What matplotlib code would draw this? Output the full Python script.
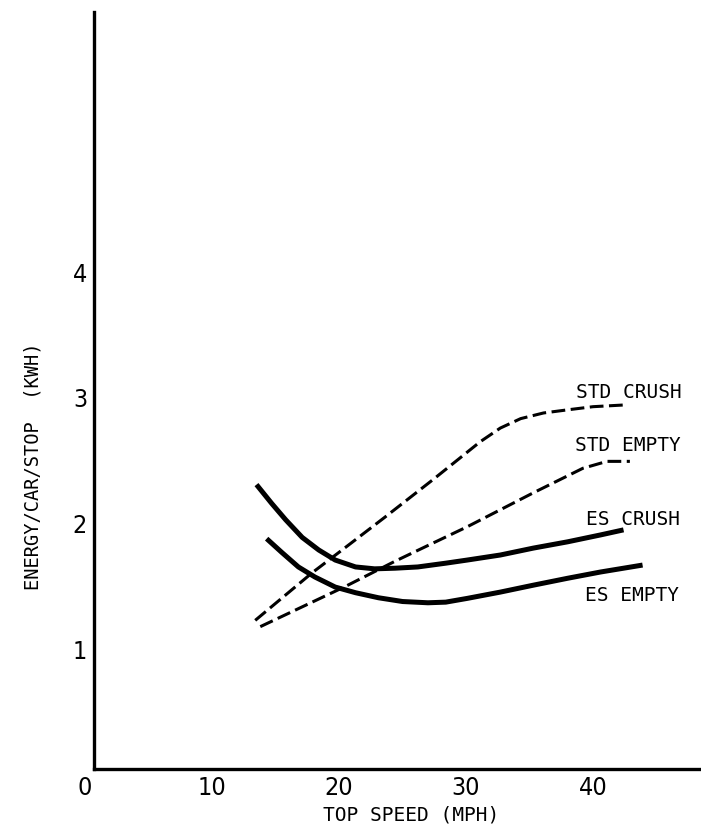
import matplotlib
matplotlib.use("Agg")
import matplotlib.pyplot as plt

# ===========================
# Data
# ===========================
es_crush_x = [13.5, 14.7, 15.8, 17.1, 18.4, 19.7, 21.3, 22.8, 24.4, 26.2, 28.4, 30.1, 32.7, 35.3, 38.0, 40.6, 42.4]
es_crush_y = [2.31, 2.16, 2.03, 1.89, 1.79, 1.71, 1.655, 1.64, 1.645, 1.655, 1.685, 1.71, 1.75, 1.805, 1.855, 1.91, 1.95]

es_empty_x = [14.3, 15.5, 16.8, 18.1, 19.7, 21.3, 23.1, 25.0, 27.0, 28.4, 30.1, 32.7, 35.3, 38.0, 40.6, 43.9]
es_empty_y = [1.88, 1.77, 1.655, 1.575, 1.495, 1.45, 1.41, 1.38, 1.37, 1.375, 1.405, 1.455, 1.51, 1.565, 1.615, 1.67]

std_crush_x = [13.4, 17.9, 20.5, 23.6, 27.4, 29.5, 31.1, 32.7, 34.3, 36.1, 38.0, 40.0, 42.7]
std_crush_y = [1.23, 1.61, 1.81, 2.05, 2.35, 2.52, 2.65, 2.76, 2.835, 2.88, 2.905, 2.93, 2.945]

std_empty_x = [13.8, 20.5, 24.4, 27.4, 30.1, 32.7, 35.3, 37.4, 39.2, 41.1, 42.9]
std_empty_y = [1.18, 1.50, 1.70, 1.845, 1.975, 2.11, 2.245, 2.35, 2.44, 2.495, 2.495]

curve_labels = ["STD CRUSH", "STD EMPTY", "ES CRUSH", "ES EMPTY"]
label_x = [38.65, 38.6, 39.45, 39.4]
label_y = [3.04, 2.625, 2.03, 1.43]

x_ticks = [0, 10, 20, 30, 40]
y_ticks = [1, 2, 3, 4]

# ===========================
# Figure
# ===========================
fig = plt.figure(figsize=(7.01, 8.27), dpi=100)
ax = fig.add_axes([0.1213, 0.0629, 0.8787, 0.9226])
ax.set_xlim(0, 48.5)
ax.set_ylim(0, 6.07)

mono = "DejaVu Sans Mono"

ax.plot(es_crush_x, es_crush_y, color="black", lw=3.6, solid_capstyle="butt")
ax.plot(es_empty_x, es_empty_y, color="black", lw=3.6, solid_capstyle="butt")
ax.plot(std_crush_x, std_crush_y, color="black", lw=2.2, dashes=(4.5, 1.8))
ax.plot(std_empty_x, std_empty_y, color="black", lw=2.2, dashes=(4.5, 1.8))

for txt, lx, ly in zip(curve_labels, label_x, label_y):
    ax.text(lx, ly, txt, fontsize=14, family=mono, ha="left", va="center")

# axes look: only left and bottom lines, no tick marks
for side in ["top", "right"]:
    ax.spines[side].set_visible(False)
ax.spines["left"].set_position(("data", 0.7))
ax.spines["bottom"].set_position(("data", 0.05))
ax.spines["left"].set_bounds(0.05, 6.07)
ax.spines["bottom"].set_bounds(0.7, 48.5)
ax.spines["left"].set_linewidth(2.4)
ax.spines["bottom"].set_linewidth(2.4)

ax.set_xticks(x_ticks)
ax.set_yticks(y_ticks)
ax.tick_params(length=0, pad=5)
for lab in ax.get_xticklabels() + ax.get_yticklabels():
    lab.set_family("DejaVu Sans")
    lab.set_stretch("condensed")
    lab.set_weight("light")
    lab.set_fontsize(18)

ax.set_xlabel("TOP SPEED (MPH)", fontsize=14, family=mono, va="center")
ax.xaxis.set_label_coords(0.529, -0.052)
ax.set_ylabel("ENERGY/CAR/STOP  (KWH)", fontsize=13.5, family=mono, va="center")
ax.yaxis.set_label_coords(-0.084, 0.404)

fig.savefig("out.png", dpi=100)
